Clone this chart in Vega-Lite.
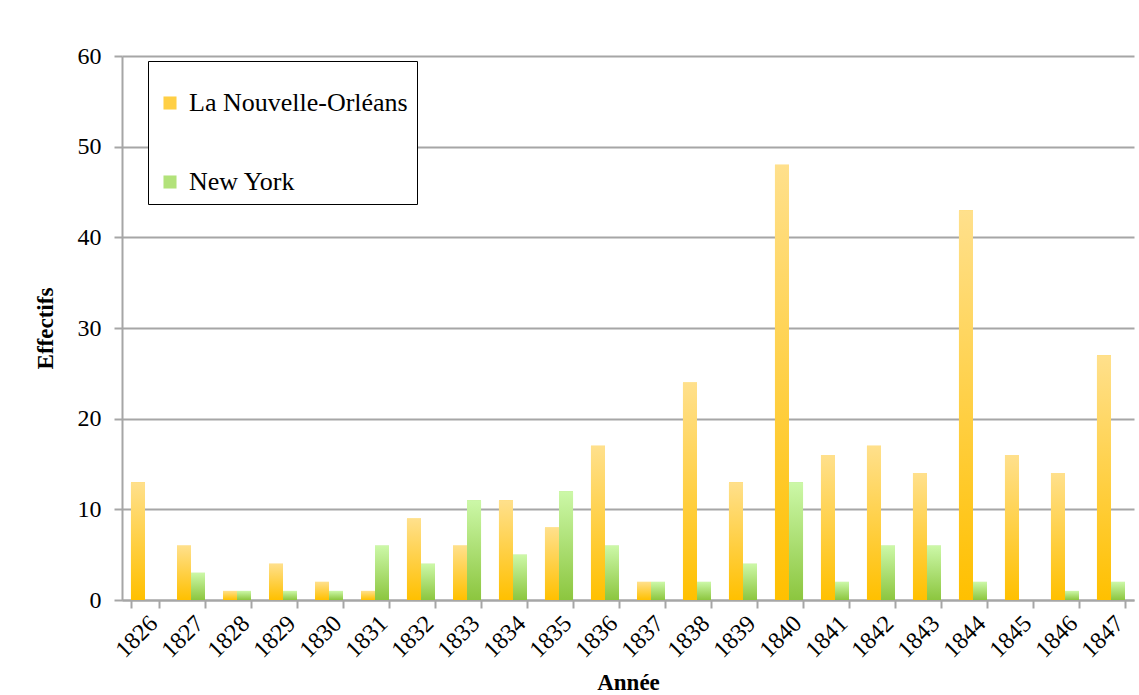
{
  "$schema": "https://vega.github.io/schema/vega-lite/v6.json",
  "width": 1012,
  "height": 544,
  "autosize": {"type": "none"},
  "padding": {"left": 122, "top": 56, "right": 5, "bottom": 95},
  "background": "white",
  "config": {
    "view": {"stroke": null},
    "font": "Liberation Serif",
    "axis": {"labelFont": "Liberation Serif", "titleFont": "Liberation Serif", "labelColor": "black", "titleColor": "black"}
  },
  "data": {
    "values": [
      {"annee": "1826", "ville": "La Nouvelle-Orléans", "effectif": 13},
      {"annee": "1826", "ville": "New York", "effectif": 0},
      {"annee": "1827", "ville": "La Nouvelle-Orléans", "effectif": 6},
      {"annee": "1827", "ville": "New York", "effectif": 3},
      {"annee": "1828", "ville": "La Nouvelle-Orléans", "effectif": 1},
      {"annee": "1828", "ville": "New York", "effectif": 1},
      {"annee": "1829", "ville": "La Nouvelle-Orléans", "effectif": 4},
      {"annee": "1829", "ville": "New York", "effectif": 1},
      {"annee": "1830", "ville": "La Nouvelle-Orléans", "effectif": 2},
      {"annee": "1830", "ville": "New York", "effectif": 1},
      {"annee": "1831", "ville": "La Nouvelle-Orléans", "effectif": 1},
      {"annee": "1831", "ville": "New York", "effectif": 6},
      {"annee": "1832", "ville": "La Nouvelle-Orléans", "effectif": 9},
      {"annee": "1832", "ville": "New York", "effectif": 4},
      {"annee": "1833", "ville": "La Nouvelle-Orléans", "effectif": 6},
      {"annee": "1833", "ville": "New York", "effectif": 11},
      {"annee": "1834", "ville": "La Nouvelle-Orléans", "effectif": 11},
      {"annee": "1834", "ville": "New York", "effectif": 5},
      {"annee": "1835", "ville": "La Nouvelle-Orléans", "effectif": 8},
      {"annee": "1835", "ville": "New York", "effectif": 12},
      {"annee": "1836", "ville": "La Nouvelle-Orléans", "effectif": 17},
      {"annee": "1836", "ville": "New York", "effectif": 6},
      {"annee": "1837", "ville": "La Nouvelle-Orléans", "effectif": 2},
      {"annee": "1837", "ville": "New York", "effectif": 2},
      {"annee": "1838", "ville": "La Nouvelle-Orléans", "effectif": 24},
      {"annee": "1838", "ville": "New York", "effectif": 2},
      {"annee": "1839", "ville": "La Nouvelle-Orléans", "effectif": 13},
      {"annee": "1839", "ville": "New York", "effectif": 4},
      {"annee": "1840", "ville": "La Nouvelle-Orléans", "effectif": 48},
      {"annee": "1840", "ville": "New York", "effectif": 13},
      {"annee": "1841", "ville": "La Nouvelle-Orléans", "effectif": 16},
      {"annee": "1841", "ville": "New York", "effectif": 2},
      {"annee": "1842", "ville": "La Nouvelle-Orléans", "effectif": 17},
      {"annee": "1842", "ville": "New York", "effectif": 6},
      {"annee": "1843", "ville": "La Nouvelle-Orléans", "effectif": 14},
      {"annee": "1843", "ville": "New York", "effectif": 6},
      {"annee": "1844", "ville": "La Nouvelle-Orléans", "effectif": 43},
      {"annee": "1844", "ville": "New York", "effectif": 2},
      {"annee": "1845", "ville": "La Nouvelle-Orléans", "effectif": 16},
      {"annee": "1845", "ville": "New York", "effectif": 0},
      {"annee": "1846", "ville": "La Nouvelle-Orléans", "effectif": 14},
      {"annee": "1846", "ville": "New York", "effectif": 1},
      {"annee": "1847", "ville": "La Nouvelle-Orléans", "effectif": 27},
      {"annee": "1847", "ville": "New York", "effectif": 2}
    ]
  },
  "encoding": {
    "x": {
      "field": "annee", "type": "nominal", "sort": null,
      "scale": {"paddingInner": 0.39, "paddingOuter": 0.195},
      "axis": {
        "title": "Année", "titleFontSize": 23, "titleFontWeight": "bold", "titlePadding": 10,
        "labelAngle": -45, "labelFontSize": 24, "labelPadding": 3,
        "tickBand": "extent", "tickSize": 8, "tickWidth": 2, "tickColor": "#a6a6a6",
        "domainColor": "#a6a6a6", "domainWidth": 2, "grid": false
      }
    },
    "xOffset": {"field": "ville", "type": "nominal", "scale": {"domain": ["La Nouvelle-Orléans", "New York"]}},
    "y": {
      "field": "effectif", "type": "quantitative",
      "scale": {"domain": [0, 60], "nice": false},
      "axis": {
        "title": "Effectifs", "titleFontSize": 23, "titleFontWeight": "bold", "titlePadding": 20,
        "values": [0, 10, 20, 30, 40, 50, 60], "labelFontSize": 24, "labelPadding": 13,
        "tickSize": 8, "tickWidth": 2, "tickColor": "#a6a6a6",
        "domainColor": "#a6a6a6", "domainWidth": 2,
        "grid": true, "gridColor": "#a6a6a6", "gridWidth": 2
      }
    }
  },
  "layer": [
    {
      "mark": {"type": "bar"},
      "encoding": {
        "color": {
          "field": "ville", "type": "nominal",
          "scale": {"domain": ["La Nouvelle-Orléans", "New York"], "range": ["#FFCF45", "#B2E27A"]},
          "legend": {
            "orient": "none", "legendX": 26, "legendY": 5,
            "title": " ", "titleFontSize": 12, "titlePadding": 8,
            "padding": 9, "strokeColor": "black", "fillColor": "white",
            "symbolType": "square", "symbolSize": 170, "symbolStrokeWidth": 0, "symbolOpacity": 1,
            "labelFontSize": 26, "labelFont": "Liberation Serif", "labelColor": "black",
            "labelOffset": 6, "rowPadding": 53, "labelLimit": 400
          }
        }
      }
    },
    {
      "transform": [{"filter": "datum.ville === 'La Nouvelle-Orléans'"}],
      "mark": {
        "type": "bar",
        "color": {"gradient": "linear", "x1": 0, "y1": 0, "x2": 0, "y2": 1, "stops": [{"offset": 0, "color": "#FFE08C"}, {"offset": 1, "color": "#FFC000"}]}
      }
    },
    {
      "transform": [{"filter": "datum.ville === 'New York'"}],
      "mark": {
        "type": "bar",
        "color": {"gradient": "linear", "x1": 0, "y1": 0, "x2": 0, "y2": 1, "stops": [{"offset": 0, "color": "#CCF8A8"}, {"offset": 1, "color": "#8CC63F"}]}
      }
    }
  ]
}
